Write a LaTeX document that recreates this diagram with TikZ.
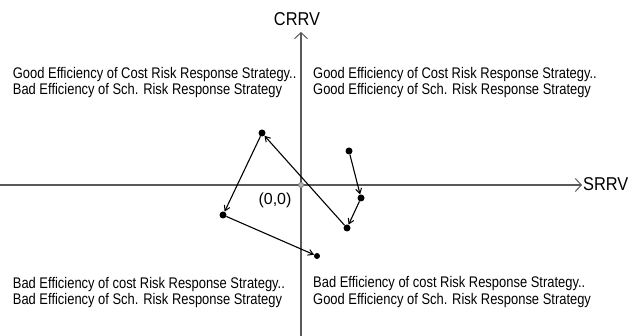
\documentclass[tikz,border=0pt]{standalone}
\usepackage{fontspec}
\setmainfont{Liberation Sans}
\newfontfamily\quadfont[FakeStretch=0.84]{Liberation Sans}
\newfontfamily\axisfont[FakeStretch=0.88]{Liberation Sans}
\usetikzlibrary{arrows.meta}
\tikzset{
  dot/.style={circle,fill=black,inner sep=0pt,minimum size=7pt},
  smalldot/.style={dot,minimum size=6pt},
  zero/.style={circle,draw=black!50,fill=black!30,line width=0.8pt,inner sep=0pt,minimum size=5pt},
  quad/.style={align=left,anchor=north west,inner sep=0pt,
    font=\quadfont\fontsize{15.4}{16.7}\selectfont},
  axisline/.style={draw=black!65,line width=1.2pt,
    -{Straight Barb[length=6pt,width=13pt,line width=1pt]}},
  axislabel/.style={inner sep=0pt,font=\axisfont\fontsize{18.6}{20}\selectfont},
  moveline/.style={line width=1.1pt,
    -{Straight Barb[length=5pt,width=6pt,line width=1pt]}}
}
\begin{document}
\begin{tikzpicture}[x=1pt,y=1pt]
  \useasboundingbox (0,0) rectangle (640,336);
  % axes
  \coordinate (ybot) at (301,0);
  \coordinate (ytop) at (301,304);
  \coordinate (xleft) at (0,151);
  \coordinate (xright) at (582,151);
  \draw[axisline] (ybot) -- (ytop);
  \draw[axisline] (xleft) -- (xright);
  \node[axislabel,anchor=base] (crrv) at (297,310) {CRRV};
  \node[axislabel,anchor=base west] (srrv) at (583,145.3) {SRRV};
  \node[inner sep=0pt,font=\fontsize{16}{18}\selectfont] (zerolabel) at (275,136) {(0,0)};
  \node[zero] (o) at (301,151) {};
  % quadrants
  \node[quad] (tl) at (12.7,269.3)
    {Good Efficiency of Cost Risk Response Strategy..\\Bad Efficiency of Sch. Risk Response Strategy};
  \node[quad] (tr) at (313,269.3)
    {Good Efficiency of Cost Risk Response Strategy..\\Good Efficiency of Sch. Risk Response Strategy};
  \node[quad] (bl) at (12.7,59.3)
    {Bad Efficiency of cost Risk Response Strategy..\\Bad Efficiency of Sch. Risk Response Strategy};
  \node[quad] (br) at (313,60)
    {Bad Efficiency of cost Risk Response Strategy..\\Good Efficiency of Sch. Risk Response Strategy};
  % path of the points
  \draw
    (349,185) node[dot] (1){}
    (361,138) node[dot] (2){}
    (347,108) node[dot] (3){}
    (262,203) node[dot] (4){}
    (223,121) node[dot] (5){}
    (317,80) node[smalldot] (6){};
  \begin{scope}[moveline]
    \draw (1) to (2);
    \draw (2) to (3);
    \draw (3) to (4);
    \draw (4) to (5);
    \draw (5) to (6);
  \end{scope}
\end{tikzpicture}
\end{document}
